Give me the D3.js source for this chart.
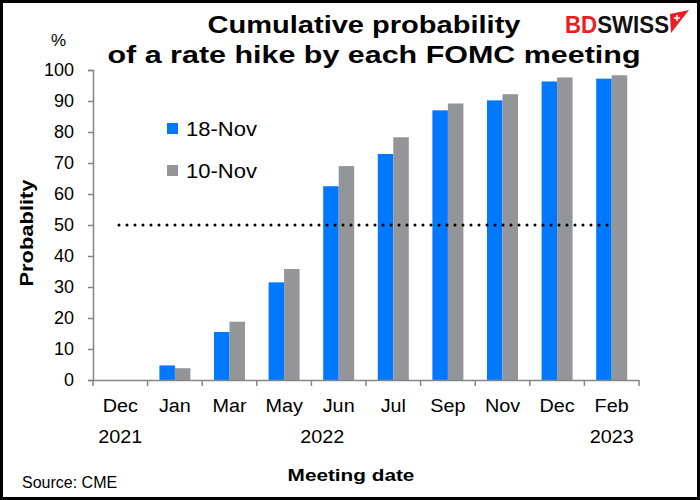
<!DOCTYPE html>
<html>
<head>
<meta charset="utf-8">
<script src="https://cdn.jsdelivr.net/npm/d3@7"></script>
<style>
  body { margin: 0; background: #fff; }
  text { font-family: Arial, "Liberation Sans", sans-serif; }
</style>
</head>
<body>
<div class="chart"></div>
<script>
const months = ["Dec", "Jan", "Mar", "May", "Jun", "Jul", "Sep", "Nov", "Dec", "Feb"];
const nov18 = [0, 4.7, 15.5, 31.5, 62.5, 72.9, 87.0, 90.2, 96.3, 97.2];
const nov10 = [0, 3.8, 18.8, 35.8, 69.0, 78.3, 89.2, 92.2, 97.6, 98.3];
const seriesNames = ["18-Nov", "10-Nov"];
const yTicks = [0, 10, 20, 30, 40, 50, 60, 70, 80, 90, 100];
const years = [{ label: "2021", at: 0 }, { label: "2022", at: 3.7 }, { label: "2023", at: 9 }];
const threshold = 50;

const width = 700, height = 500;
const margin = { left: 93, right: 61, top: 70, bottom: 120 };
const colors = ["#0078ff", "#939598"];

const svg = d3.select(".chart").append("svg")
    .attr("width", width)
    .attr("height", height);

svg.append("rect")
    .attr("x", 1.5).attr("y", 1.5)
    .attr("width", width - 3).attr("height", height - 3)
    .attr("fill", "#fff").attr("stroke", "#000").attr("stroke-width", 3);

// the original picture is a bit wider than normal type, so stretch text
function stretch(sel, k) {
    sel.each(function () {
        const w = this.getComputedTextLength();
        d3.select(this).attr("textLength", w * k).attr("lengthAdjust", "spacingAndGlyphs");
    });
}

const x = d3.scaleBand()
    .domain(d3.range(months.length))
    .range([margin.left, width - margin.right])
    .paddingInner(0).paddingOuter(0);

const y = d3.scaleLinear()
    .domain([0, 100])
    .range([height - margin.bottom, margin.top]);

const barW = 15.5;

// bars
[nov18, nov10].forEach(function (vals, s) {
    svg.append("g").selectAll("rect")
        .data(vals)
        .enter().append("rect")
        .attr("x", function (d, i) { return x(i) + x.bandwidth() / 2 - barW + s * barW; })
        .attr("y", function (d) { return y(d); })
        .attr("width", barW)
        .attr("height", function (d) { return y(0) - y(d); })
        .attr("fill", colors[s]);
});

// 50% line
svg.append("line")
    .attr("x1", 119).attr("x2", 611)
    .attr("y1", y(threshold)).attr("y2", y(threshold))
    .attr("stroke", "#000")
    .attr("stroke-width", 3)
    .attr("stroke-linecap", "round")
    .attr("stroke-dasharray", "0,8");

// y axis
const yAxis = svg.append("g")
    .attr("transform", "translate(" + margin.left + ",0)")
    .call(d3.axisLeft(y).tickValues(yTicks).tickSize(5).tickPadding(14));
yAxis.select(".domain").attr("stroke", "#868686").attr("stroke-width", 1.5);
yAxis.selectAll(".tick line").attr("stroke", "#868686").attr("stroke-width", 1.5);
yAxis.selectAll(".tick text").attr("font-size", 18).attr("fill", "#000")
    .attr("font-family", "Arial, 'Liberation Sans', sans-serif");

// x axis
const xAxis = svg.append("g")
    .attr("transform", "translate(0," + y(0) + ")")
    .call(d3.axisBottom(x).tickValues([]).tickSizeOuter(0));
xAxis.select(".domain").attr("stroke", "#868686").attr("stroke-width", 1.5);
xAxis.selectAll(".sep")
    .data(d3.range(months.length + 1))
    .enter().append("line")
    .attr("x1", function (i) { return margin.left + i * x.step(); })
    .attr("x2", function (i) { return margin.left + i * x.step(); })
    .attr("y1", 0).attr("y2", 6)
    .attr("stroke", "#868686").attr("stroke-width", 1.5);

svg.append("g").selectAll("text")
    .data(months)
    .enter().append("text")
    .attr("x", function (d, i) { return x(i) + x.bandwidth() / 2; })
    .attr("y", 412)
    .attr("text-anchor", "middle")
    .attr("font-size", 18)
    .text(function (d) { return d; })
    .call(stretch, 1.1);

svg.append("g").selectAll("text")
    .data(years)
    .enter().append("text")
    .attr("x", function (d) { return x(0) + (d.at + 0.5) * x.step(); })
    .attr("y", 443)
    .attr("text-anchor", "middle")
    .attr("font-size", 18)
    .text(function (d) { return d.label; })
    .call(stretch, 1.1);

// axis titles
svg.append("text")
    .attr("x", 351).attr("y", 481)
    .attr("text-anchor", "middle")
    .attr("font-size", 17).attr("font-weight", "bold")
    .text("Meeting date")
    .call(stretch, 1.22);

svg.append("text")
    .attr("transform", "translate(33,233) rotate(-90)")
    .attr("text-anchor", "middle")
    .attr("font-size", 18).attr("font-weight", "bold")
    .attr("textLength", 107).attr("lengthAdjust", "spacingAndGlyphs")
    .text("Probablity");

svg.append("text")
    .attr("x", 51).attr("y", 46)
    .attr("font-size", 17)
    .text("%");

svg.append("text")
    .attr("x", 22).attr("y", 488)
    .attr("font-size", 16)
    .text("Source: CME");

// title
svg.append("text")
    .attr("x", 364).attr("y", 33)
    .attr("text-anchor", "middle")
    .attr("font-size", 24).attr("font-weight", "bold")
    .attr("textLength", 313).attr("lengthAdjust", "spacingAndGlyphs")
    .text("Cumulative probability");
svg.append("text")
    .attr("x", 374).attr("y", 63)
    .attr("text-anchor", "middle")
    .attr("font-size", 24).attr("font-weight", "bold")
    .attr("textLength", 533).attr("lengthAdjust", "spacingAndGlyphs")
    .text("of a rate hike by each FOMC meeting");

// legend
const legend = svg.append("g").selectAll("g")
    .data(seriesNames)
    .enter().append("g")
    .attr("transform", function (d, i) { return "translate(167," + (123 + i * 42) + ")"; });
legend.append("rect")
    .attr("width", 11).attr("height", 11)
    .attr("fill", function (d, i) { return colors[i]; });
legend.append("text")
    .attr("x", 19).attr("y", 13)
    .attr("font-size", 20)
    .attr("textLength", 71).attr("lengthAdjust", "spacingAndGlyphs")
    .text(function (d) { return d; });

// logo
const logo = svg.append("g").attr("transform", "translate(563,33)");
logo.append("text")
    .attr("x", 2)
    .attr("font-size", 23).attr("font-weight", "bold")
    .attr("textLength", 104).attr("lengthAdjust", "spacingAndGlyphs")
    .selectAll("tspan")
    .data([{ t: "BD", c: "#ed1c24" }, { t: "SWISS", c: "#111" }])
    .enter().append("tspan")
    .attr("fill", function (d) { return d.c; })
    .text(function (d) { return d.t; });
logo.append("path")
    .attr("d", "M107,-19 L126,-23 L108,0 Z")
    .attr("fill", "#ed1c24");
logo.append("path")
    .attr("d", "M111,-15 h6 M114,-18 v6")
    .attr("stroke", "#fff").attr("stroke-width", 1.5);
</script>
</body>
</html>
